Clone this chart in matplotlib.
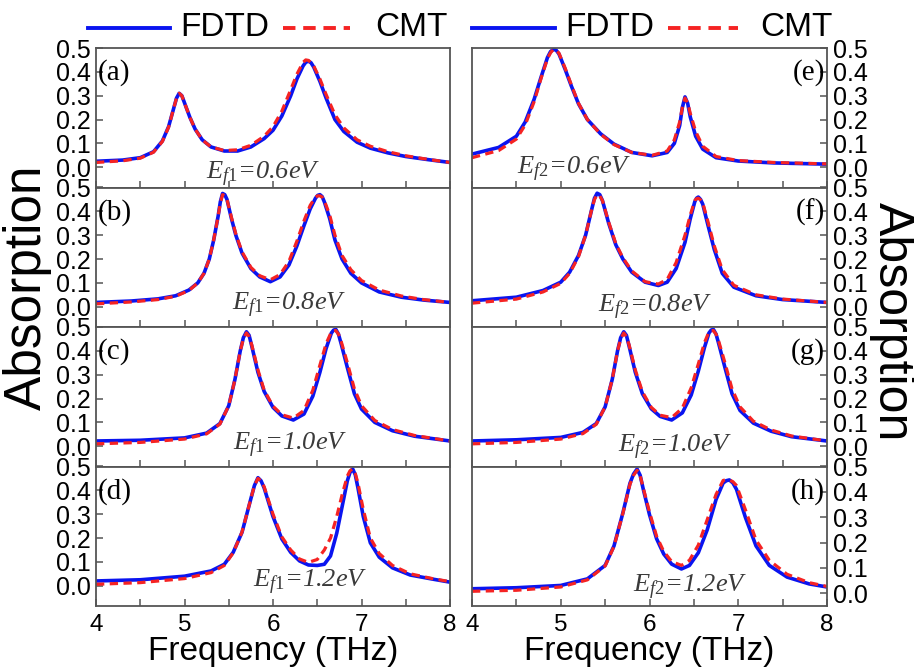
import matplotlib
matplotlib.use("Agg")
import matplotlib.pyplot as plt
from matplotlib.lines import Line2D
from matplotlib.ticker import MultipleLocator, FormatStrFormatter

plt.rcParams["font.family"] = ["Liberation Sans", "DejaVu Sans"]
plt.rcParams["mathtext.fontset"] = "custom"
plt.rcParams["mathtext.it"] = "Liberation Serif:italic"
plt.rcParams["mathtext.rm"] = "Liberation Serif"

#Values, one frequency grid per panel
freq_a = [4.0, 4.3, 4.5, 4.65, 4.75, 4.82, 4.88, 4.91, 4.94, 4.97, 5.0, 5.06, 5.12, 5.2, 5.3, 5.45, 5.6,
          5.75, 5.9, 6.0, 6.1, 6.2, 6.27, 6.34, 6.37, 6.40, 6.43, 6.46, 6.53, 6.6, 6.7, 6.8, 6.95, 7.1,
          7.3, 7.5, 7.75, 8.0]
fdtd_a = [0.025, 0.03, 0.04, 0.065, 0.11, 0.17, 0.25, 0.29, 0.31, 0.30, 0.27, 0.21, 0.16, 0.115, 0.085,
          0.068, 0.068, 0.085, 0.12, 0.155, 0.215, 0.3, 0.37, 0.425, 0.44, 0.445, 0.438, 0.42, 0.36, 0.29,
          0.2, 0.15, 0.105, 0.08, 0.06, 0.045, 0.032, 0.02]
cmt_a = [0.02, 0.027, 0.038, 0.063, 0.108, 0.168, 0.25, 0.29, 0.31, 0.30, 0.27, 0.21, 0.16, 0.115, 0.085,
         0.07, 0.073, 0.092, 0.13, 0.17, 0.235, 0.325, 0.39, 0.44, 0.45, 0.448, 0.438, 0.425, 0.37, 0.305,
         0.22, 0.165, 0.115, 0.088, 0.065, 0.048, 0.033, 0.02]

freq_b = [4.0, 4.4, 4.7, 4.9, 5.05, 5.15, 5.22, 5.28, 5.33, 5.38, 5.405, 5.43, 5.455, 5.48, 5.53, 5.58,
          5.65, 5.75, 5.85, 5.97, 6.08, 6.18, 6.27, 6.35, 6.42, 6.48, 6.505, 6.53, 6.555, 6.58, 6.64, 6.7,
          6.78, 6.88, 7.0, 7.2, 7.45, 7.7, 8.0]
fdtd_b = [0.018, 0.024, 0.033, 0.046, 0.07, 0.1, 0.14, 0.2, 0.28, 0.38, 0.44, 0.475, 0.47, 0.45, 0.37, 0.3,
          0.225, 0.16, 0.125, 0.105, 0.125, 0.175, 0.255, 0.34, 0.41, 0.455, 0.467, 0.47, 0.462, 0.44, 0.37,
          0.28, 0.2, 0.14, 0.1, 0.062, 0.04, 0.028, 0.018]
cmt_b = [0.012, 0.02, 0.03, 0.044, 0.068, 0.1, 0.14, 0.2, 0.28, 0.38, 0.435, 0.47, 0.465, 0.45, 0.375,
         0.305, 0.23, 0.165, 0.13, 0.113, 0.135, 0.19, 0.275, 0.36, 0.425, 0.46, 0.465, 0.465, 0.46, 0.445,
         0.385, 0.3, 0.215, 0.155, 0.11, 0.07, 0.045, 0.03, 0.018]

freq_c = [4.0, 4.5, 5.0, 5.25, 5.4, 5.5, 5.57, 5.63, 5.665, 5.7, 5.73, 5.76, 5.83, 5.9, 6.0, 6.1, 6.23,
          6.35, 6.45, 6.53, 6.6, 6.66, 6.685, 6.71, 6.74, 6.77, 6.84, 6.92, 7.0, 7.15, 7.35, 7.6, 8.0]
fdtd_c = [0.022, 0.025, 0.035, 0.055, 0.095, 0.17, 0.28, 0.40, 0.455, 0.48, 0.465, 0.42, 0.31, 0.23, 0.163,
          0.127, 0.11, 0.135, 0.21, 0.31, 0.41, 0.475, 0.487, 0.49, 0.47, 0.43, 0.33, 0.22, 0.156, 0.1,
          0.065, 0.042, 0.022]
cmt_c = [0.01, 0.016, 0.03, 0.052, 0.093, 0.17, 0.28, 0.40, 0.45, 0.475, 0.46, 0.425, 0.32, 0.235, 0.168,
         0.132, 0.118, 0.15, 0.235, 0.34, 0.43, 0.48, 0.486, 0.485, 0.47, 0.44, 0.35, 0.24, 0.17, 0.108,
         0.07, 0.045, 0.022]

freq_d = [4.0, 4.5, 5.0, 5.3, 5.45, 5.55, 5.65, 5.75, 5.79, 5.83, 5.865, 5.9, 6.0, 6.1, 6.2, 6.3, 6.4,
          6.5, 6.58, 6.65, 6.72, 6.78, 6.84, 6.87, 6.9, 6.93, 6.96, 7.02, 7.1, 7.2, 7.35, 7.55, 7.8, 8.0]
fdtd_d = [0.02, 0.025, 0.04, 0.062, 0.09, 0.14, 0.224, 0.365, 0.42, 0.453, 0.44, 0.41, 0.29, 0.196, 0.14,
          0.104, 0.087, 0.085, 0.09, 0.125, 0.22, 0.33, 0.44, 0.475, 0.49, 0.465, 0.41, 0.29, 0.18, 0.12,
          0.075, 0.045, 0.028, 0.015]
cmt_d = [0.006, 0.013, 0.03, 0.055, 0.085, 0.138, 0.225, 0.365, 0.42, 0.45, 0.44, 0.415, 0.3, 0.205, 0.15,
         0.112, 0.098, 0.11, 0.15, 0.2, 0.29, 0.38, 0.46, 0.482, 0.49, 0.47, 0.43, 0.32, 0.2, 0.135, 0.085,
         0.05, 0.03, 0.017]

freq_e = [4.0, 4.3, 4.5, 4.6, 4.7, 4.78, 4.85, 4.885, 4.92, 4.95, 4.98, 5.05, 5.12, 5.2, 5.3, 5.45, 5.6,
          5.8, 6.03, 6.2, 6.28, 6.34, 6.37, 6.4, 6.43, 6.46, 6.52, 6.6, 6.75, 7.0, 7.4, 8.0]
fdtd_e = [0.055, 0.083, 0.13, 0.19, 0.285, 0.38, 0.46, 0.485, 0.495, 0.49, 0.475, 0.41, 0.34, 0.266, 0.2,
          0.14, 0.097, 0.062, 0.048, 0.062, 0.1, 0.175, 0.25, 0.295, 0.268, 0.21, 0.13, 0.076, 0.04, 0.026,
          0.018, 0.013]
cmt_e = [0.04, 0.07, 0.118, 0.178, 0.275, 0.375, 0.455, 0.48, 0.495, 0.49, 0.478, 0.415, 0.345, 0.268, 0.2,
         0.138, 0.095, 0.062, 0.05, 0.068, 0.115, 0.19, 0.25, 0.29, 0.27, 0.225, 0.15, 0.088, 0.045, 0.028,
         0.02, 0.014]

freq_f = [4.0, 4.5, 4.8, 5.0, 5.1, 5.2, 5.28, 5.35, 5.38, 5.41, 5.44, 5.47, 5.54, 5.62, 5.7, 5.8, 5.95,
          6.1, 6.2, 6.3, 6.4, 6.46, 6.51, 6.53, 6.55, 6.575, 6.6, 6.66, 6.73, 6.82, 6.95, 7.2, 7.5, 8.0]
fdtd_f = [0.025, 0.04, 0.068, 0.103, 0.145, 0.215, 0.3, 0.41, 0.455, 0.476, 0.47, 0.445, 0.35, 0.26, 0.2,
          0.145, 0.103, 0.089, 0.103, 0.16, 0.27, 0.37, 0.44, 0.455, 0.46, 0.45, 0.43, 0.34, 0.24, 0.14,
          0.082, 0.046, 0.03, 0.018]
cmt_f = [0.015, 0.032, 0.062, 0.098, 0.14, 0.21, 0.3, 0.41, 0.45, 0.47, 0.465, 0.445, 0.355, 0.265, 0.205,
         0.15, 0.105, 0.095, 0.115, 0.185, 0.3, 0.385, 0.445, 0.453, 0.455, 0.448, 0.435, 0.355, 0.255,
         0.155, 0.09, 0.05, 0.032, 0.018]

freq_g = [4.0, 4.5, 5.0, 5.25, 5.4, 5.5, 5.58, 5.64, 5.675, 5.71, 5.74, 5.77, 5.84, 5.92, 6.02, 6.12, 6.25,
          6.37, 6.47, 6.55, 6.62, 6.67, 6.695, 6.72, 6.75, 6.78, 6.85, 6.93, 7.02, 7.17, 7.37, 7.6, 8.0]
fdtd_g = [0.022, 0.027, 0.037, 0.058, 0.095, 0.165, 0.28, 0.40, 0.455, 0.48, 0.465, 0.42, 0.31, 0.22, 0.157,
          0.125, 0.11, 0.14, 0.215, 0.315, 0.415, 0.475, 0.487, 0.49, 0.47, 0.43, 0.33, 0.22, 0.15, 0.097,
          0.063, 0.04, 0.022]
cmt_g = [0.01, 0.016, 0.03, 0.053, 0.092, 0.165, 0.28, 0.40, 0.45, 0.475, 0.46, 0.425, 0.32, 0.228, 0.163,
         0.13, 0.12, 0.16, 0.245, 0.345, 0.435, 0.48, 0.485, 0.485, 0.47, 0.44, 0.35, 0.24, 0.165, 0.105,
         0.068, 0.043, 0.022]

freq_h = [4.0, 4.5, 5.0, 5.3, 5.5, 5.6, 5.7, 5.78, 5.82, 5.86, 5.895, 5.93, 6.0, 6.08, 6.16, 6.25, 6.36,
          6.45, 6.55, 6.65, 6.75, 6.83, 6.865, 6.9, 6.94, 6.98, 7.08, 7.2, 7.35, 7.55, 7.8, 8.0]
fdtd_h = [0.018, 0.022, 0.031, 0.057, 0.11, 0.187, 0.317, 0.434, 0.47, 0.49, 0.465, 0.41, 0.31, 0.215,
          0.155, 0.115, 0.096, 0.11, 0.16, 0.25, 0.37, 0.435, 0.444, 0.447, 0.435, 0.41, 0.3, 0.187, 0.11,
          0.064, 0.037, 0.025]
cmt_h = [0.008, 0.012, 0.025, 0.053, 0.108, 0.185, 0.315, 0.43, 0.465, 0.485, 0.463, 0.415, 0.32, 0.225,
         0.165, 0.125, 0.11, 0.13, 0.19, 0.29, 0.39, 0.445, 0.448, 0.447, 0.44, 0.425, 0.33, 0.21, 0.13,
         0.075, 0.042, 0.027]

panel_letters = ["(a)", "(b)", "(c)", "(d)", "(e)", "(f)", "(g)", "(h)"]
fermi_subs = ["f1", "f1", "f1", "f1", "f2", "f2", "f2", "f2"]
fermi_levels = ["0.6", "0.8", "1.0", "1.2", "0.6", "0.8", "1.0", "1.2"]

freqs = [freq_a, freq_b, freq_c, freq_d, freq_e, freq_f, freq_g, freq_h]
fdtd = [fdtd_a, fdtd_b, fdtd_c, fdtd_d, fdtd_e, fdtd_f, fdtd_g, fdtd_h]
cmt = [cmt_a, cmt_b, cmt_c, cmt_d, cmt_e, cmt_f, cmt_g, cmt_h]

#Where the E_f text sits in each panel (axes fraction)
label_pos = [(0.31, 0.06), (0.384, 0.12), (0.387, 0.115), (0.444, 0.13),
             (0.127, 0.095), (0.355, 0.105), (0.41, 0.10), (0.454, 0.10)]

BLUE = "#0a14f0"
RED = "#f52323"
W, H = 914, 671

fig = plt.figure(figsize=(W / 100, H / 100), dpi=100)

col_left = [96, 472]
col_width = [354, 355]
top_px = 48
row_h = 139.5

for i in range(8):
    col = i // 4
    row = i % 4
    top = top_px + row * row_h
    ax = fig.add_axes([col_left[col] / W, 1 - (top + row_h) / H, col_width[col] / W, row_h / H])

    ax.plot(freqs[i], fdtd[i], color=BLUE, lw=2.6, solid_joinstyle="round")
    ax.plot(freqs[i], cmt[i], color=RED, lw=2.3, linestyle=(0, (2.6, 1.7)))

    ax.set_xlim(4, 8)
    if i == 7:
        ax.set_ylim(-0.05, 0.5)
    else:
        ax.set_ylim(-0.085, 0.5)

    ax.xaxis.set_major_locator(MultipleLocator(1))
    ax.xaxis.set_minor_locator(MultipleLocator(0.5))
    ax.yaxis.set_major_locator(MultipleLocator(0.1))
    ax.yaxis.set_major_formatter(FormatStrFormatter("%.1f"))

    for sp in ax.spines.values():
        sp.set_color("#555555")
        sp.set_linewidth(1.3)

    ax.tick_params(axis="x", which="both", direction="in", length=5, width=1.1, color="#555555",
                   top=False, labelsize=17.5, pad=6)
    if col == 0:
        ax.tick_params(axis="y", direction="in", length=5, width=1.1, color="#555555",
                       left=True, right=False, labelleft=True, labelright=False, labelsize=18, pad=4)
    else:
        ax.tick_params(axis="y", direction="in", length=5, width=1.1, color="#555555",
                       left=False, right=True, labelleft=False, labelright=True, labelsize=18, pad=4)

    if row < 3:
        ax.tick_params(axis="x", labelbottom=False)
    else:
        ax.set_xlabel("Frequency (THz)", fontsize=24, labelpad=0)

    #Panel letter
    if col == 0:
        ax.text(0.005, 0.92, panel_letters[i], transform=ax.transAxes, ha="left", va="top",
                fontsize=21, family="Liberation Serif")
    else:
        ax.text(0.995, 0.92, panel_letters[i], transform=ax.transAxes, ha="right", va="top",
                fontsize=21, family="Liberation Serif")

    #Fermi level annotation
    tx, ty = label_pos[i]
    ax.text(tx, ty, "$E_{\\mathit{" + fermi_subs[i] + "}}$=" + fermi_levels[i] + "eV",
            transform=ax.transAxes, ha="left", va="baseline", fontsize=19,
            family="Liberation Serif", style="italic", color="#3a3a3a")

#Legends on top of each column
legend_y = 1 - 28 / H
for x0, x1, x2, x3, x4, x5 in [(88, 170, 180, 283, 350, 375), (472, 555, 565, 668, 738, 760)]:
    fig.add_artist(Line2D([x0 / W, x1 / W], [legend_y, legend_y], color=BLUE, lw=2.8,
                          transform=fig.transFigure))
    fig.text(x2 / W, legend_y, "FDTD", fontsize=24, ha="left", va="center")
    fig.add_artist(Line2D([x3 / W, x4 / W], [legend_y, legend_y], color=RED, lw=2.8,
                          linestyle=(0, (3.2, 2.0)), transform=fig.transFigure))
    fig.text(x5 / W, legend_y, "CMT", fontsize=24, ha="left", va="center")

#Shared y labels
fig.text(27 / W, 1 - 287 / H, "Absorption", fontsize=37, rotation=90, ha="center", va="center")
fig.text(892 / W, 1 - 322 / H, "Absorption", fontsize=36, rotation=-90, ha="center", va="center")

fig.savefig("out.png", dpi=100)
